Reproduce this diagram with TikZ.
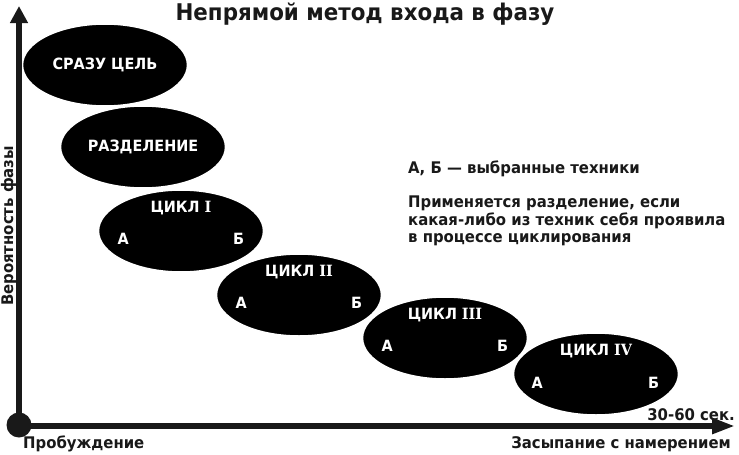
\documentclass[tikz,border=0pt]{standalone}
\usepackage{fontspec}
\setmainfont[FakeStretch=0.93]{DejaVu Sans}
\newfontfamily\romnum[FakeStretch=0.93]{DejaVu Serif}
\usetikzlibrary{arrows.meta, positioning, shapes.geometric}

\begin{document}
\begin{tikzpicture}[x=1pt, y=1pt,
    on grid,
    phase/.style={ellipse, fill=black, draw=white, line width=1.5pt, minimum width=165pt, minimum height=82pt, inner sep=0pt, text=white, font=\bfseries\fontsize{15.5}{18}\selectfont},
    tech/.style={text=white, inner sep=0pt, font=\bfseries\fontsize{15.5}{18}\selectfont},
    caption/.style={inner sep=0pt, text=black!90, font=\bfseries\fontsize{16}{17.5}\selectfont},
    axis/.style={line width=5.5pt, black!90}
    ]
    \useasboundingbox (0,0) rectangle (739,-455);
    % Nodes
    \node[caption, font=\bfseries\fontsize{23}{27}\selectfont] (title) at (365,-14) {Непрямой метод входа в фазу};
    \node[phase] (S0) at (105,-65) {СРАЗУ ЦЕЛЬ};
    \node[phase] (S1) [below right=82pt and 38pt of S0] {РАЗДЕЛЕНИЕ};
    \node[phase] (C1) [below right=84pt and 38pt of S1] {};
    \node[phase] (C2) [below right=64pt and 118pt of C1] {};
    \node[phase] (C3) [below right=43pt and 146pt of C2] {};
    \node[phase] (C4) [below right=36pt and 151pt of C3] {};
    \node[tech] (C1t) [above=16pt of C1.center] {ЦИКЛ {\romnum I}};
    \node[tech] (C1a) [below left=2pt and 52pt of C1.center] {А};
    \node[tech] (C1b) [below right=2pt and 52pt of C1.center] {Б};
    \node[tech] (C2t) [above=16pt of C2.center] {ЦИКЛ {\romnum II}};
    \node[tech] (C2a) [below left=2pt and 52pt of C2.center] {А};
    \node[tech] (C2b) [below right=2pt and 52pt of C2.center] {Б};
    \node[tech] (C3t) [above=16pt of C3.center] {ЦИКЛ {\romnum III}};
    \node[tech] (C3a) [below left=2pt and 52pt of C3.center] {А};
    \node[tech] (C3b) [below right=2pt and 52pt of C3.center] {Б};
    \node[tech] (C4t) [above=16pt of C4.center] {ЦИКЛ {\romnum IV}};
    \node[tech] (C4a) [below left=3pt and 53pt of C4.center] {А};
    \node[tech] (C4b) [below right=3pt and 52pt of C4.center] {Б};
    \node[caption, anchor=base west] (legend) at (408,-173) {А, Б — выбранные техники};
    \node[caption, anchor=north west, align=left] (rule) at (408,-196) {Применяется разделение, если\\какая-либо из техник себя проявила\\в процессе циклирования};
    % Axes
    \coordinate (Ytop) at (19,-6);
    \coordinate (Xend) at (735,-426);
    \draw[axis, -{Triangle[length=17pt, width=17pt]}] (19,-426) -- (Ytop);
    \draw[axis, -{Triangle[length=23pt, width=15pt]}] (19,-426) -- (Xend);
    \node[circle, fill=black!90, minimum size=25pt, inner sep=0pt] (O) at (19,-425) {};
    \node[caption, anchor=base west] (wake) at (23,-448) {Пробуждение};
    \node[caption, anchor=base east] (sleep) at (731,-448) {Засыпание с намерением};
    \node[caption, anchor=base east] (time) at (735,-420) {30-60 сек.};
    \node[caption, anchor=base, rotate=90] (prob) at (13,-226) {Вероятность фазы};
\end{tikzpicture}
\end{document}
